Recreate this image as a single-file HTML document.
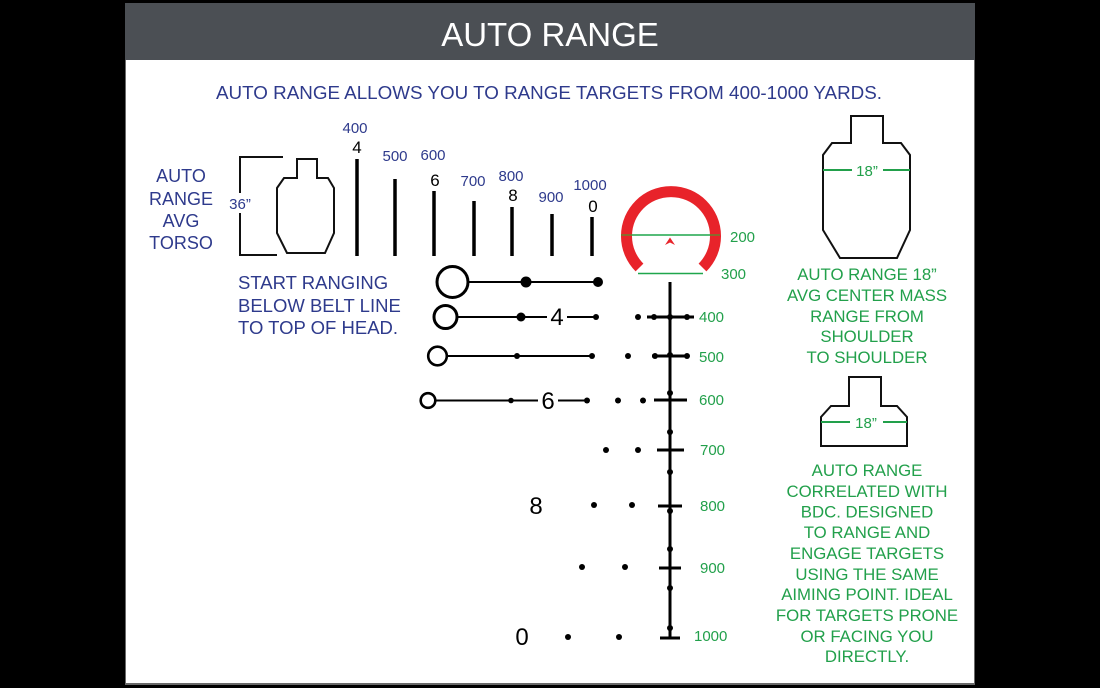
<!DOCTYPE html>
<html><head><meta charset="utf-8"><style>
html,body{margin:0;padding:0;background:#000;}
svg{display:block;}
text{font-family:"Liberation Sans",Arial,sans-serif;}
</style></head><body>
<svg width="1100" height="688" viewBox="0 0 1100 688" xmlns="http://www.w3.org/2000/svg">
<rect x="0" y="0" width="1100" height="688" fill="#000"/>
<rect x="125" y="3" width="850" height="682" fill="#6a6a6a"/>
<rect x="126" y="4" width="848" height="679" fill="#fff"/>
<rect x="125" y="3" width="850" height="57" fill="#4b4f54"/>
<text x="550" y="46" font-size="33" fill="#fff" text-anchor="middle">AUTO RANGE</text>
<text x="549" y="99" font-size="18.5" fill="#2e3a8c" text-anchor="middle" textLength="666" lengthAdjust="spacingAndGlyphs">AUTO RANGE ALLOWS YOU TO RANGE TARGETS FROM 400-1000 YARDS.</text>

<!-- left labels -->
<g fill="#2e3a8c" font-size="18" text-anchor="middle">
<text x="181" y="182">AUTO</text>
<text x="181" y="205">RANGE</text>
<text x="181" y="227">AVG</text>
<text x="181" y="249">TORSO</text>
</g>
<g fill="#2e3a8c" font-size="18.5">
<text x="238" y="289">START RANGING</text>
<text x="238" y="312">BELOW BELT LINE</text>
<text x="238" y="334">TO TOP OF HEAD.</text>
</g>

<!-- bracket -->
<g stroke="#111" stroke-width="2" fill="none">
<path d="M283 157 H240 V193"/>
<path d="M240 213 V255 H277"/>
</g>
<text x="240" y="209" font-size="15" fill="#2e3a8c" text-anchor="middle">36”</text>

<!-- left target -->
<path d="M297 159 H317 V178 H328 L334 188 V233 L325 253 H287 L277 233 V188 L284 178 H297 Z" fill="none" stroke="#111" stroke-width="2"/>

<!-- vertical bars -->
<g stroke="#000" stroke-width="3.5">
<line x1="357" y1="159" x2="357" y2="256"/>
<line x1="395" y1="179" x2="395" y2="256"/>
<line x1="434" y1="191" x2="434" y2="256"/>
<line x1="474" y1="201" x2="474" y2="256"/>
<line x1="512" y1="207" x2="512" y2="256"/>
<line x1="552" y1="214" x2="552" y2="256"/>
<line x1="592" y1="217" x2="592" y2="256"/>
</g>
<g fill="#2e3a8c" font-size="15" text-anchor="middle">
<text x="355" y="133">400</text>
<text x="395" y="161">500</text>
<text x="433" y="160">600</text>
<text x="473" y="186">700</text>
<text x="511" y="181">800</text>
<text x="551" y="202">900</text>
<text x="590" y="190">1000</text>
</g>
<g fill="#000" font-size="17" text-anchor="middle">
<text x="357" y="153">4</text>
<text x="435" y="186">6</text>
<text x="513" y="201">8</text>
<text x="593" y="212">0</text>
</g>

<!-- red ring -->
<path d="M639.5 267.5 A44.5 44.5 0 1 1 702.5 267.5" fill="none" stroke="#e8232a" stroke-width="11"/>
<line x1="621" y1="235" x2="720" y2="235" stroke="#1fa64b" stroke-width="1.6"/>
<line x1="621" y1="235" x2="632" y2="235" stroke="#8a6a2c" stroke-width="2"/>
<line x1="710" y1="235" x2="720" y2="235" stroke="#8a6a2c" stroke-width="2"/>
<line x1="638" y1="273.5" x2="703" y2="273.5" stroke="#1fa64b" stroke-width="1.6"/>
<path d="M665 245 L670 237.5 L675 245 L670 242.5 Z" fill="#e8232a"/>
<g fill="#22a04b" font-size="15">
<text x="730" y="242">200</text>
<text x="721" y="279">300</text>
<text x="699" y="322">400</text>
<text x="699" y="362">500</text>
<text x="699" y="405">600</text>
<text x="700" y="455">700</text>
<text x="700" y="511">800</text>
<text x="700" y="573">900</text>
<text x="694" y="641">1000</text>
</g>

<!-- reticle vertical -->
<g stroke="#000" stroke-width="3">
<line x1="670" y1="282" x2="670" y2="639"/>
<line x1="647" y1="317" x2="694" y2="317"/>
<line x1="652" y1="356" x2="689" y2="356"/>
<line x1="654" y1="400" x2="687" y2="400"/>
<line x1="657" y1="450" x2="684" y2="450"/>
<line x1="658" y1="506" x2="682" y2="506"/>
<line x1="659" y1="568" x2="681" y2="568"/>
<line x1="660" y1="638" x2="680" y2="638"/>
</g>

<!-- rows -->
<g fill="none" stroke="#000">
<circle cx="452.5" cy="282" r="15.5" stroke-width="3"/>
<circle cx="445.5" cy="317" r="11.5" stroke-width="3"/>
<circle cx="437.5" cy="356" r="9.3" stroke-width="2.6"/>
<circle cx="428" cy="400.5" r="7.3" stroke-width="2.6"/>
<line x1="468" y1="282" x2="598" y2="282" stroke-width="2"/>
<line x1="457" y1="317" x2="547" y2="317" stroke-width="2"/>
<line x1="567" y1="317" x2="596" y2="317" stroke-width="2"/>
<line x1="447" y1="356" x2="592" y2="356" stroke-width="2"/>
<line x1="435" y1="400.5" x2="538" y2="400.5" stroke-width="2"/>
<line x1="558" y1="400.5" x2="587" y2="400.5" stroke-width="2"/>
</g>
<g fill="#000">
<circle cx="526" cy="282" r="5.5"/>
<circle cx="598" cy="282" r="5"/>
<circle cx="521" cy="317" r="4.5"/>
<circle cx="596" cy="317" r="3"/>
<circle cx="638" cy="317" r="3"/>
<circle cx="654" cy="317" r="3"/>
<circle cx="670" cy="317" r="3"/>
<circle cx="687" cy="317" r="3"/>
<circle cx="517" cy="356" r="3"/>
<circle cx="592" cy="356" r="3"/>
<circle cx="628" cy="356" r="3"/>
<circle cx="655" cy="356" r="3"/>
<circle cx="670" cy="355" r="3"/>
<circle cx="687" cy="356" r="3"/>
<circle cx="511" cy="400.5" r="2.8"/>
<circle cx="587" cy="400.5" r="3"/>
<circle cx="618" cy="400.5" r="3"/>
<circle cx="643" cy="400.5" r="3"/>
<circle cx="670" cy="393" r="3"/>
<circle cx="670" cy="432" r="3"/>
<circle cx="606" cy="450" r="3"/>
<circle cx="638" cy="450" r="3"/>
<circle cx="670" cy="472" r="3"/>
<circle cx="594" cy="505" r="3"/>
<circle cx="632" cy="505" r="3"/>
<circle cx="670" cy="511" r="3"/>
<circle cx="670" cy="549" r="3"/>
<circle cx="582" cy="567" r="3"/>
<circle cx="625" cy="567" r="3"/>
<circle cx="670" cy="588" r="3"/>
<circle cx="670" cy="628" r="3"/>
<circle cx="568" cy="637" r="3"/>
<circle cx="619" cy="637" r="3"/>
</g>
<g fill="#000" font-size="24" text-anchor="middle">
<text x="557" y="325">4</text>
<text x="548" y="409">6</text>
<text x="536" y="514">8</text>
<text x="522" y="645">0</text>
</g>

<!-- right target 1 -->
<path d="M851 116 H883 V143 H901 L910 155 V230 L897 258 H840 L823 230 V155 L832 143 H851 Z" fill="none" stroke="#111" stroke-width="2"/>
<line x1="823" y1="170" x2="852" y2="170" stroke="#22a04b" stroke-width="2"/>
<line x1="883" y1="170" x2="910" y2="170" stroke="#22a04b" stroke-width="2"/>
<text x="867" y="176" font-size="15" fill="#22a04b" text-anchor="middle">18”</text>
<g fill="#22a04b" font-size="16.8" text-anchor="middle">
<text x="867" y="280">AUTO RANGE 18”</text>
<text x="867" y="301">AVG CENTER MASS</text>
<text x="867" y="322">RANGE FROM</text>
<text x="867" y="342">SHOULDER</text>
<text x="867" y="363">TO SHOULDER</text>
</g>

<!-- right target 2 -->
<path d="M849 377 H881 V406 H897 L907 417 V446 H821 V417 L831 406 H849 Z" fill="none" stroke="#111" stroke-width="2"/>
<line x1="821" y1="422" x2="850" y2="422" stroke="#22a04b" stroke-width="2"/>
<line x1="883" y1="422" x2="907" y2="422" stroke="#22a04b" stroke-width="2"/>
<text x="866" y="428" font-size="15" fill="#22a04b" text-anchor="middle">18”</text>
<g fill="#22a04b" font-size="16.8" text-anchor="middle">
<text x="867" y="476">AUTO RANGE</text>
<text x="867" y="497">CORRELATED WITH</text>
<text x="867" y="517.5">BDC. DESIGNED</text>
<text x="867" y="538">TO RANGE AND</text>
<text x="867" y="559">ENGAGE TARGETS</text>
<text x="867" y="580">USING THE SAME</text>
<text x="867" y="600">AIMING POINT. IDEAL</text>
<text x="867" y="621">FOR TARGETS PRONE</text>
<text x="867" y="642">OR FACING YOU</text>
<text x="867" y="662">DIRECTLY.</text>
</g>
</svg>
</body></html>
